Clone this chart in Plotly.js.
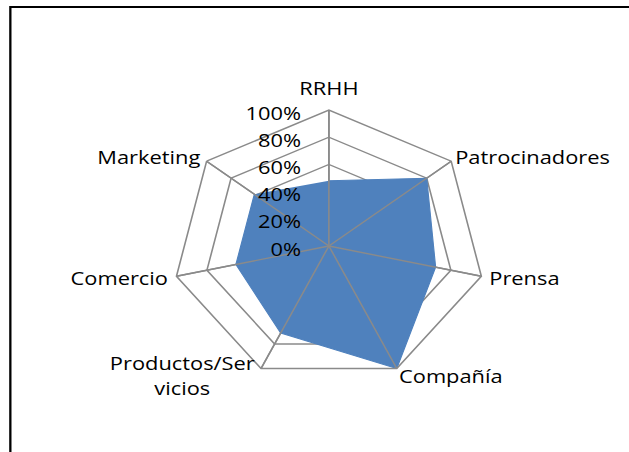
<!DOCTYPE html>
<html>
<head>
<meta charset="utf-8">
<script src="https://cdn.plot.ly/plotly-3.0.1.min.js"></script>
<style>
  html, body { margin: 0; padding: 0; overflow: hidden; background: #fff; width: 629px; height: 452px; }
  #wrap { position: absolute; left: 0; top: 0; width: 547px; height: 452px; transform: scaleX(1.15); transform-origin: 0 0; }
  #chart { position: absolute; left: 0; top: 0; width: 547px; height: 452px; }
  #frame { position: absolute; left: 8px; top: 6px; width: 1000px; height: 1000px; border: 2px solid #000; pointer-events: none; }
</style>
</head>
<body>
<div id="wrap">
  <div id="chart"></div>
  <div id="frame"></div>
</div>
<script>
// Data
var categories = ['RRHH', 'Patrocinadores', 'Prensa', 'Compañía', 'Productos/Ser<br>vicios', 'Comercio', 'Marketing'];
var values = [0.48, 0.80, 0.70, 1.00, 0.71, 0.61, 0.61];
var tickValues = [0, 0.2, 0.4, 0.6, 0.8, 1.0];
var tickLabels = ['0%', '20%', '40%', '60%', '80%', '100%'];

var gridColor = '#8a8a8a';
var fontFamily = '"Open Sans", "Noto Sans", sans-serif';

// spokes drawn over the filled area (as Excel does)
var spokeR = [], spokeT = [];
categories.forEach(function (c) {
  spokeR.push(tickValues[0], tickValues[tickValues.length - 1], null);
  spokeT.push(c, c, null);
});

var traces = [
  {
    type: 'scatterpolar',
    r: values,
    theta: categories,
    mode: 'lines',
    fill: 'toself',
    fillcolor: '#4F81BD',
    line: { color: '#4F81BD', width: 1 },
    hoverinfo: 'skip',
    showlegend: false
  },
  {
    type: 'scatterpolar',
    r: spokeR,
    theta: spokeT,
    mode: 'lines',
    line: { color: gridColor, width: 1.4 },
    connectgaps: false,
    hoverinfo: 'skip',
    showlegend: false
  }
];

var layout = {
  width: 547,
  height: 452,
  margin: { l: 0, r: 0, t: 0, b: 0 },
  paper_bgcolor: '#fff',
  showlegend: false,
  font: { family: fontFamily, color: '#000', size: 19 },
  polar: {
    domain: { x: [0.2742, 0.7715], y: [0.1549, 0.7566] },
    gridshape: 'linear',
    bgcolor: 'rgba(0,0,0,0)',
    radialaxis: {
      range: [0, 1],
      tickvals: tickValues,
      ticktext: tickLabels,
      angle: 90,
      side: 'counterclockwise',
      tickangle: 90,
      showline: false,
      gridcolor: gridColor,
      gridwidth: 1.4,
      ticks: 'outside',
      ticklen: 22,
      tickcolor: 'rgba(0,0,0,0)',
      tickfont: { family: fontFamily, size: 19, color: '#000' }
    },
    angularaxis: {
      direction: 'clockwise',
      rotation: 90,
      showline: true,
      linecolor: gridColor,
      linewidth: 1.4,
      gridcolor: gridColor,
      gridwidth: 1.4,
      ticks: '',
      tickfont: { family: fontFamily, size: 19, color: '#000' }
    }
  }
};

// small placement tweaks for labels (Excel puts them slightly differently)
var labelNudge = {
  'RRHH': [0, -7],
  'Patrocinadores': [0, 3],
  'Prensa': [2.5, -3],
  'Compañía': [0, -10],
  'Productos/Servicios': [-3.5, -21],
  'Comercio': [-3, -3],
  'Marketing': [-2, 3]
};
var radialNudge = [5, 3.5];

// move an svg element by (dx, dy) in screen (svg) pixels whatever its rotation
function nudge(el, dx, dy) {
  var m = el.getCTM();
  if (!m) return;
  var det = m.a * m.d - m.b * m.c;
  var lx = (m.d * dx - m.c * dy) / det;
  var ly = (-m.b * dx + m.a * dy) / det;
  el.setAttribute('transform', (el.getAttribute('transform') || '') + ' translate(' + lx + ',' + ly + ')');
}

Plotly.newPlot('chart', traces, layout, { displayModeBar: false, staticPlot: true }).then(function (gd) {
  gd.querySelectorAll('.angular-axis text').forEach(function (t) {
    var key = t.textContent.trim();
    var n = labelNudge[key];
    if (!n) return;
    nudge(t.parentNode, n[0], n[1]);
    // centre the lines of multi-line labels
    var lines = t.querySelectorAll('tspan.line');
    if (lines.length > 1) {
      var widths = [];
      lines.forEach(function (l) { widths.push(l.getComputedTextLength()); });
      var maxW = Math.max.apply(null, widths);
      var anchor = t.getAttribute('text-anchor');
      lines.forEach(function (l, i) {
        var shift = (maxW - widths[i]) / 2;
        if (anchor === 'end') shift = -shift;
        else if (anchor === 'middle') shift = 0;
        l.setAttribute('x', parseFloat(l.getAttribute('x') || t.getAttribute('x') || 0) + shift);
      });
    }
  });
  gd.querySelectorAll('.radial-axis text').forEach(function (t) {
    nudge(t.parentNode, radialNudge[0], radialNudge[1]);
  });
});
</script>
</body>
</html>
